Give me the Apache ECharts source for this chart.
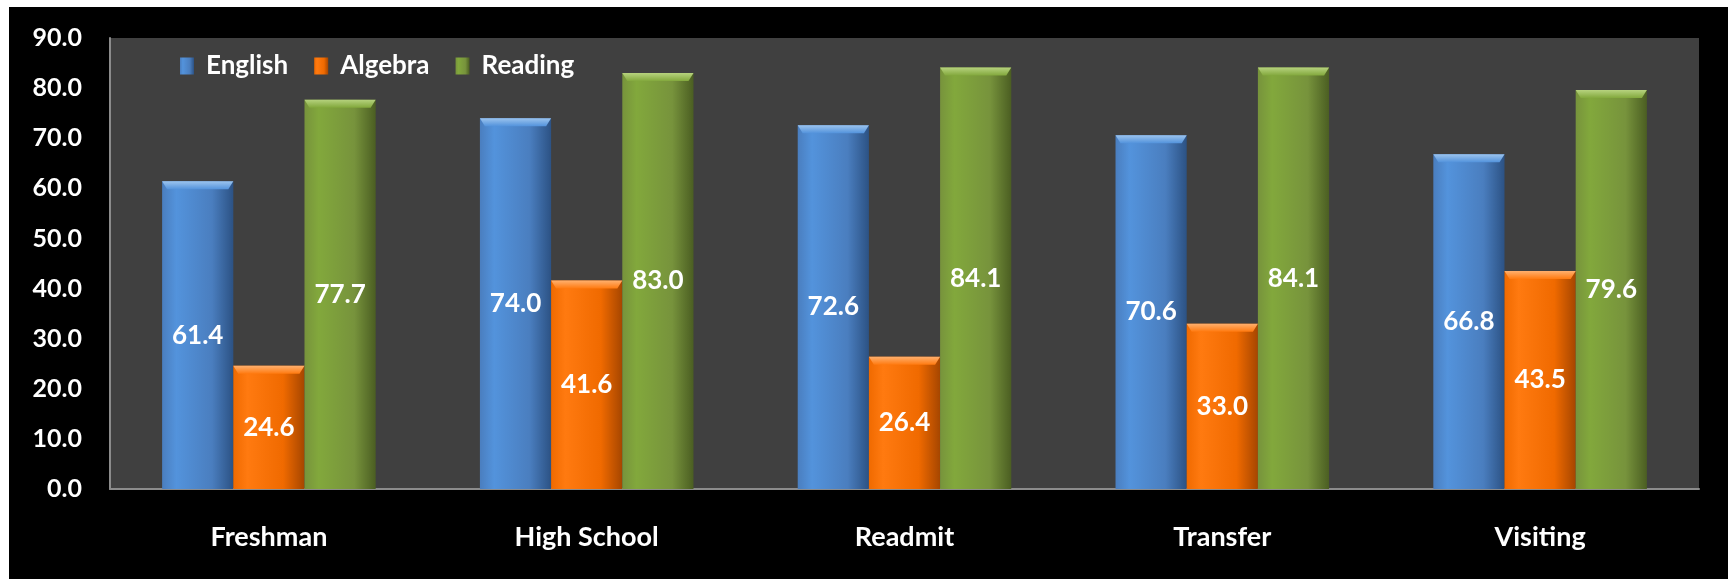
<!DOCTYPE html>
<html>
<head>
<meta charset="utf-8">
<script src="https://cdn.jsdelivr.net/npm/echarts@6/dist/echarts.min.js"></script>
<style>
  html, body { margin: 0; padding: 0; background: #ffffff; }
  #chart { position: absolute; left: 9px; top: 7px; width: 1719px; height: 572px; background: #000000; }
</style>
</head>
<body>
<div id="chart"></div>
<script>
// chart data
const categories = ['Freshman', 'High School', 'Readmit', 'Transfer', 'Visiting'];
const english = [61.4, 74.0, 72.6, 70.6, 66.8];
const algebra = [24.6, 41.6, 26.4, 33.0, 43.5];
const reading = [77.7, 83.0, 84.1, 84.1, 79.6];
const seriesNames = ['English', 'Algebra', 'Reading'];

// colours per series: left highlight, middle, right shade, cap
const palette = [
  { l: '#5393dc', m: '#4a7ebf', r: '#2c5284', cap: '#9cc4ee' },
  { l: '#ff7a10', m: '#f06a00', r: '#a64600', cap: '#ffb06e' },
  { l: '#82a83c', m: '#77933c', r: '#4b5e22', cap: '#b6d27e' }
];

const FONT = 'Lato, "Open Sans", sans-serif';
const BAR_PCT = 0.224;

const chart = echarts.init(document.getElementById('chart'));

function bodyGradient(p) {
  return new echarts.graphic.LinearGradient(0, 0, 1, 0, [
    { offset: 0, color: p.m },
    { offset: 0.2, color: p.l },
    { offset: 0.7, color: p.m },
    { offset: 1, color: p.r }
  ]);
}

const values = [english, algebra, reading];

const barSeries = values.map((arr, i) => ({
  name: seriesNames[i],
  type: 'bar',
  data: arr,
  barWidth: (BAR_PCT * 100) + '%',
  barGap: '0%',
  itemStyle: { color: bodyGradient(palette[i]) },
  label: {
    show: true,
    position: 'inside',
    color: '#ffffff',
    fontFamily: FONT,
    fontWeight: 'bold',
    fontSize: 26,
    formatter: p => p.value.toFixed(1)
  },
  z: 2
}));

// bevelled top of each bar, placed with the axis scales
const capSeries = values.map((arr, i) => ({
  name: seriesNames[i] + '-cap',
  type: 'custom',
  data: arr.map((v, k) => [k, v]),
  silent: true,
  z: 3,
  renderItem: (params, api) => {
    const top = api.coord([api.value(0), api.value(1)]);
    const band = api.size([1, 0])[0];
    const w = band * BAR_PCT;
    const cx = top[0] + (i - 1) * w;
    const x0 = cx - w / 2, x1 = cx + w / 2, y = top[1], h = 8, s = 5;
    const p = palette[i];
    return {
      type: 'polygon',
      shape: { points: [[x0, y], [x1, y], [x1 - s, y + h], [x0 + s, y + h]] },
      style: {
        fill: new echarts.graphic.LinearGradient(0, 0, 0, 1, [
          { offset: 0, color: p.cap },
          { offset: 1, color: p.l }
        ])
      }
    };
  }
}));

chart.setOption({
  backgroundColor: '#000000',
  animation: false,
  grid: {
    left: 101, right: 29, top: 31, bottom: 90,
    show: true, backgroundColor: '#404040', borderWidth: 0
  },
  legend: {
    data: seriesNames,
    left: 166,
    top: 41,
    itemWidth: 14,
    itemHeight: 17,
    itemGap: 26,
    icon: 'rect',
    textStyle: {
      color: '#ffffff', fontFamily: FONT, fontWeight: 'bold', fontSize: 26,
      padding: [0, 0, 0, 7]
    }
  },
  xAxis: {
    type: 'category',
    data: categories,
    axisLine: { lineStyle: { color: '#8c8c8c', width: 2 } },
    axisTick: { show: false },
    axisLabel: { color: '#ffffff', fontFamily: FONT, fontWeight: 'bold', fontSize: 27, margin: 35 }
  },
  yAxis: {
    type: 'value',
    min: 0,
    max: 90,
    interval: 10,
    axisLine: { show: true, lineStyle: { color: '#8c8c8c', width: 2 } },
    axisTick: { show: false },
    splitLine: { show: false },
    axisLabel: {
      color: '#ffffff', fontFamily: FONT, fontWeight: 'bold', fontSize: 25, margin: 28,
      formatter: v => v.toFixed(1)
    }
  },
  series: barSeries.concat(capSeries)
});
</script>
</body>
</html>
